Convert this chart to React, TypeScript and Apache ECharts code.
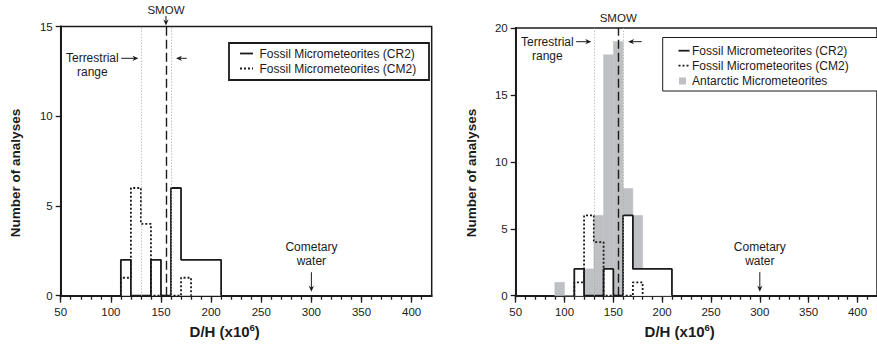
import { useEffect, useRef } from 'react';
import * as echarts from 'echarts';

// D/H histograms (x10^-6), bins 10 units wide, keyed by their lower edge
const binStarts = [90, 100, 110, 120, 130, 140, 150, 160, 170, 180, 190, 200];
const BIN_WIDTH = 10;
const cr2Counts = [0, 0, 2, 0, 0, 2, 0, 6, 2, 2, 2, 2];
const cm2Counts = [0, 0, 1, 6, 4, 0, 0, 0, 1, 0, 0, 0];
const antarcticCounts = [1, 0, 0, 2, 6, 18, 19, 8, 6, 2, 2, 0];

const xTickLabels = [50, 100, 150, 200, 250, 300, 350, 400];
const xMinorTicks = Array.from({ length: 37 }, (_, i) => 50 + i * 10);
const X_MIN = 50;
const X_MAX = 420;
const yMaxByPanel = [15, 20];
const Y_STEP = 5;

// reference values
const SMOW = 155;
const terrestrialRange = [130, 160];
const cometaryWater = 300;

const FONT = "'Liberation Sans', Arial, Helvetica, sans-serif";
const INK = '#1b1b1b';
const GRAY = '#bfc0c3';
const TERR_GRAY = '#a8a8a8';

const grids = [
  { left: 60.7, top: 26.5, width: 371, height: 269.2 },
  { left: 515.7, top: 28, width: 371, height: 267.7 },
];

// per-panel placement of the annotation texts
const panelText = [
  { smowY: 10, smowArrow: true, terrY: 58.3, titleX: 15 },
  { smowY: 18.3, smowArrow: false, terrY: 41.7, titleX: 471 },
];

// histogram outline from the first to the last occupied bin
function stepOutline(counts: number[]) {
  const first = counts.findIndex((c) => c > 0);
  let last = counts.length - 1;
  while (last > first && counts[last] === 0) last--;
  const pts: number[][] = [[binStarts[first], 0]];
  for (let i = first; i <= last; i++) pts.push([binStarts[i], counts[i]]);
  pts.push([binStarts[last] + BIN_WIDTH, 0]);
  return pts;
}

function xAxesFor(g: number) {
  const common = {
    type: 'value',
    gridIndex: g,
    min: X_MIN,
    max: X_MAX,
    position: 'bottom',
    splitLine: { show: false },
  };
  return [
    {
      ...common,
      axisLine: { show: true, onZero: false, lineStyle: { color: INK, width: 2 } },
      axisTick: { show: true, customValues: xMinorTicks, length: 4, lineStyle: { color: INK, width: 1.3 } },
      axisLabel: { customValues: xTickLabels, margin: 10, fontSize: 11.5, color: INK, fontFamily: FONT },
    },
    {
      ...common,
      axisLine: { show: false },
      axisTick: { show: true, customValues: xTickLabels, length: 7, lineStyle: { color: INK, width: 1.3 } },
      axisLabel: { show: false },
    },
  ];
}

function markLines() {
  return {
    silent: true,
    symbol: ['none', 'none'],
    label: { show: false },
    animation: false,
    data: [
      { xAxis: terrestrialRange[0], lineStyle: { color: TERR_GRAY, width: 1, type: [1, 2] } },
      { xAxis: terrestrialRange[1], lineStyle: { color: TERR_GRAY, width: 1, type: [1, 2] } },
      { xAxis: SMOW, lineStyle: { color: INK, width: 1.4, type: [9, 4] } },
    ],
  };
}

function fossilSeries(xi: number, yi: number) {
  return [
    {
      name: 'Fossil Micrometeorites (CR2)',
      type: 'line',
      xAxisIndex: xi,
      yAxisIndex: yi,
      step: 'end',
      data: stepOutline(cr2Counts),
      symbol: 'none',
      showSymbol: false,
      lineStyle: { color: INK, width: 1.8 },
      areaStyle: { color: '#ffffff', opacity: 1 },
      silent: true,
      z: 3,
    },
    {
      name: 'Fossil Micrometeorites (CM2)',
      type: 'line',
      xAxisIndex: xi,
      yAxisIndex: yi,
      step: 'end',
      data: stepOutline(cm2Counts),
      symbol: 'none',
      showSymbol: false,
      lineStyle: { color: INK, width: 1.8, type: [2, 2] },
      silent: true,
      z: 4,
      markLine: markLines(),
    },
  ];
}

function buildOption() {
  return {
    animation: false,
    backgroundColor: '#ffffff',
    textStyle: { fontFamily: FONT },
    grid: grids.map((g) => ({ ...g, show: true, borderColor: INK, borderWidth: 1.5, backgroundColor: 'transparent' })),
    xAxis: [...xAxesFor(0), ...xAxesFor(1)],
    yAxis: yMaxByPanel.map((yMax, g) => ({
      type: 'value',
      gridIndex: g,
      min: 0,
      max: yMax,
      interval: Y_STEP,
      axisLine: { show: true, onZero: false, lineStyle: { color: INK, width: 2 } },
      axisTick: { show: true, length: 5, lineStyle: { color: INK, width: 1.3 } },
      axisLabel: { margin: 8, fontSize: 11.5, color: INK, fontFamily: FONT },
      splitLine: { show: false },
    })),
    series: [
      ...fossilSeries(0, 0),
      {
        name: 'Antarctic Micrometeorites',
        type: 'custom',
        xAxisIndex: 2,
        yAxisIndex: 1,
        silent: true,
        z: 1,
        data: binStarts.map((s, i) => [s, s + BIN_WIDTH, antarcticCounts[i]]),
        encode: { x: [0, 1], y: 2 },
        renderItem: (_params: any, api: any) => {
          const top = api.coord([api.value(0), api.value(2)]);
          const base = api.coord([api.value(1), 0]);
          return {
            type: 'rect',
            shape: { x: top[0], y: top[1], width: base[0] - top[0], height: base[1] - top[1] },
            style: { fill: GRAY, stroke: GRAY, lineWidth: 0.5 },
          };
        },
      },
      ...fossilSeries(2, 1),
    ],
  };
}

function text(x: number, y: number, str: string, opts: any = {}) {
  return {
    type: 'text',
    x,
    y,
    z: 100,
    rotation: opts.rotation || 0,
    style: {
      text: str,
      fill: INK,
      fontFamily: FONT,
      fontSize: opts.fontSize || 12,
      fontWeight: opts.fontWeight || 'normal',
      align: opts.align || 'center',
      textAlign: opts.align || 'center',
      verticalAlign: 'middle',
      textVerticalAlign: 'middle',
      rich: opts.rich,
    },
  };
}

function arrow(x1: number, y1: number, x2: number, y2: number) {
  const len = Math.hypot(x2 - x1, y2 - y1);
  const ux = (x2 - x1) / len;
  const uy = (y2 - y1) / len;
  const nx = -uy;
  const ny = ux;
  const head = 6;
  const half = 2.6;
  const bx = x2 - ux * head;
  const by = y2 - uy * head;
  return [
    { type: 'line', z: 100, shape: { x1, y1, x2: x2 - ux * 3, y2: y2 - uy * 3 }, style: { stroke: INK, lineWidth: 1 } },
    {
      type: 'polygon',
      z: 100,
      shape: {
        points: [
          [x2, y2],
          [bx + nx * half, by + ny * half],
          [x2 - ux * head * 0.7, y2 - uy * head * 0.7],
          [bx - nx * half, by - ny * half],
        ],
      },
      style: { fill: INK },
    },
  ];
}

function legendBox(x: number, y: number, w: number, h: number, border: number, entries: any[], sampleX: number, textX: number) {
  const els: any[] = [
    { type: 'rect', z: 99, shape: { x, y, width: w, height: h }, style: { fill: '#fff', stroke: INK, lineWidth: border } },
  ];
  entries.forEach((e) => {
    if (e.kind === 'box') {
      els.push({ type: 'rect', z: 100, shape: { x: sampleX + 0.5, y: e.y - 3.5, width: 7, height: 7 }, style: { fill: GRAY } });
    } else {
      els.push({
        type: 'line',
        z: 100,
        shape: { x1: sampleX, y1: e.y, x2: sampleX + e.len, y2: e.y },
        style: { stroke: INK, lineWidth: 1.8, lineDash: e.kind === 'dot' ? [2, 2] : null },
      });
    }
    els.push(text(textX, e.y, e.label, { align: 'left', fontSize: 12 }));
  });
  return els;
}

const xTitleRich = {
  b: { fontSize: 15, fontWeight: 'bold', fontFamily: FONT, fill: INK, lineHeight: 17 },
  sup: { fontSize: 9.5, fontWeight: 'bold', fontFamily: FONT, fill: INK, lineHeight: 9.5, verticalAlign: 'top' },
};

function buildGraphics(chart: any) {
  const els: any[] = [];
  grids.forEach((_g, i) => {
    const px = (x: number, y: number) => chart.convertToPixel({ gridIndex: i }, [x, y]);
    const [xl, yb] = px(X_MIN, 0);
    const [, yt] = px(X_MIN, yMaxByPanel[i]);
    const t = panelText[i];

    // SMOW
    const sx = px(SMOW, 0)[0];
    els.push(text(sx, t.smowY, 'SMOW', { fontSize: 11.5 }));
    if (t.smowArrow) els.push(...arrow(sx, t.smowY + 6, sx, yt - 1));

    // terrestrial range
    const t0 = px(terrestrialRange[0], 0)[0];
    const t1 = px(terrestrialRange[1], 0)[0];
    els.push(text(xl + 31.6, t.terrY, 'Terrestrial'));
    els.push(text(xl + 31.6, t.terrY + 14, 'range'));
    els.push(...arrow(xl + 60.5, t.terrY, t0 - 2.5, t.terrY));
    els.push(...arrow(xl + 126, t.terrY, t1 + 5, t.terrY));

    // cometary water
    const cx = px(cometaryWater, 0)[0];
    els.push(text(cx, yb - 49, 'Cometary'));
    els.push(text(cx, yb - 34.5, 'water'));
    els.push(...arrow(cx, yb - 23.5, cx, yb - 4));

    // axis titles
    els.push(text(xl + 164, 331, '{b|D/H (x10}{sup|6}{b|)}', { rich: xTitleRich }));
    els.push(text(t.titleX, 173, 'Number of analyses', { fontSize: 13.5, fontWeight: 'bold', rotation: Math.PI / 2 }));
  });

  els.push(
    ...legendBox(229, 43, 200, 37, 1.8, [
      { kind: 'line', y: 53.5, len: 13, label: 'Fossil Micrometeorites (CR2)' },
      { kind: 'dot', y: 68.5, len: 13, label: 'Fossil Micrometeorites (CM2)' },
    ], 240, 259.5),
  );
  els.push(
    ...legendBox(662.7, 37.5, 240, 53.5, 1, [
      { kind: 'line', y: 50.7, len: 11, label: 'Fossil Micrometeorites (CR2)' },
      { kind: 'dot', y: 65.7, len: 11, label: 'Fossil Micrometeorites (CM2)' },
      { kind: 'box', y: 81, label: 'Antarctic Micrometeorites' },
    ], 678.5, 692),
  );
  return els;
}

export default function App() {
  const ref = useRef<HTMLDivElement>(null);
  useEffect(() => {
    const chart = echarts.init(ref.current!, null, { renderer: 'svg' });
    chart.setOption(buildOption() as any);
    chart.setOption({ graphic: { elements: buildGraphics(chart) } } as any);
    return () => chart.dispose();
  }, []);
  return (
    <div
      ref={ref}
      style={{ position: 'fixed', left: 0, top: 0, width: 877, height: 350, background: '#fff' }}
    />
  );
}
